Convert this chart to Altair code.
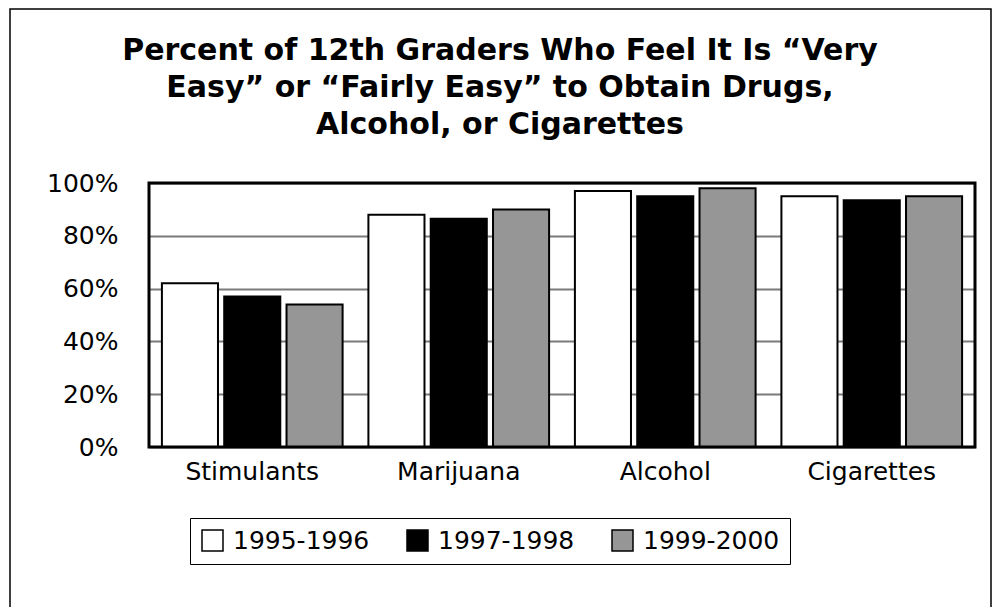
import altair as alt
import pandas as pd

categories = ["Stimulants", "Marijuana", "Alcohol", "Cigarettes"]
periods = ["1995-1996", "1997-1998", "1999-2000"]
values_1995_1996 = [62, 88, 97, 95]
values_1997_1998 = [57, 86.5, 95, 93.5]
values_1999_2000 = [54, 90, 98, 95]
fill_colors = ["#ffffff", "#000000", "#969696"]
y_ticks = [0, 0.2, 0.4, 0.6, 0.8, 1.0]
title_lines = [
    "Percent of 12th Graders Who Feel It Is \u201cVery",
    "Easy\u201d or \u201cFairly Easy\u201d to Obtain Drugs,",
    "Alcohol, or Cigarettes",
]

rows = []
for i, c in enumerate(categories):
    for p, vals in zip(periods, [values_1995_1996, values_1997_1998, values_1999_2000]):
        rows.append({"category": c, "period": p, "value": vals[i] / 100})
df = pd.DataFrame(rows)

W, H = 826, 264
FONT = "DejaVu Sans"

bars = alt.Chart(df).mark_bar(stroke="black", strokeWidth=2, opacity=1).encode(
    x=alt.X(
        "category:N",
        sort=categories,
        scale=alt.Scale(paddingInner=0.125, paddingOuter=0.0625),
        axis=alt.Axis(
            title=None, labelAngle=0, ticks=False, domain=False,
            labelFontSize=25, labelPadding=12, labelColor="black", labelFont=FONT,
        ),
    ),
    xOffset=alt.XOffset("period:N", sort=periods, scale=alt.Scale(paddingInner=0.1, paddingOuter=0)),
    y=alt.Y(
        "value:Q",
        scale=alt.Scale(domain=[0, 1]),
        axis=alt.Axis(
            format="%", values=y_ticks, title=None, ticks=False, domain=False,
            grid=True, gridColor="#7a7a7a", gridWidth=1.8, gridOpacity=1,
            labelFontSize=25, labelPadding=31, labelColor="black", labelFont=FONT,
        ),
    ),
    color=alt.Color(
        "period:N",
        sort=periods,
        scale=alt.Scale(domain=periods, range=fill_colors),
        legend=alt.Legend(
            title=None, orient="none", legendX=41, legendY=335, direction="horizontal",
            symbolType="square", symbolSize=441, symbolStrokeColor="black",
            symbolStrokeWidth=1.5, symbolOpacity=1,
            labelFontSize=25, labelFont=FONT, labelColor="black", labelOffset=8,
            columnPadding=34, padding=10, strokeColor="black", fillColor="white",
        ),
    ),
)

plot_border = alt.Chart(pd.DataFrame({"k": [0]})).mark_rect(
    fill=None, stroke="black", strokeWidth=3
).encode(x=alt.value(0), x2=alt.value(W), y=alt.value(0), y2=alt.value(H))

outer_frame = alt.Chart(pd.DataFrame({"k": [0]})).mark_rect(
    fill=None, stroke="black", strokeWidth=1.5
).encode(x=alt.value(-139), x2=alt.value(842), y=alt.value(-174), y2=alt.value(440))

title_text = alt.Chart(pd.DataFrame({"k": [0]})).mark_text(
    font=FONT, fontSize=30, fontWeight="bold", color="black",
    align="center", baseline="alphabetic", lineHeight=37,
).encode(x=alt.value(351), y=alt.value(-123), text=alt.value(title_lines))

chart = alt.layer(outer_frame, bars, plot_border, title_text).properties(
    width=W,
    height=H,
    autosize=alt.AutoSizeParams(type="none"),
    padding={"left": 141, "top": 175, "right": 17, "bottom": 160},
).configure_view(stroke=None).configure(font=FONT, background="white")

chart.save("out.html", embed_options={"renderer": "svg", "actions": False})
